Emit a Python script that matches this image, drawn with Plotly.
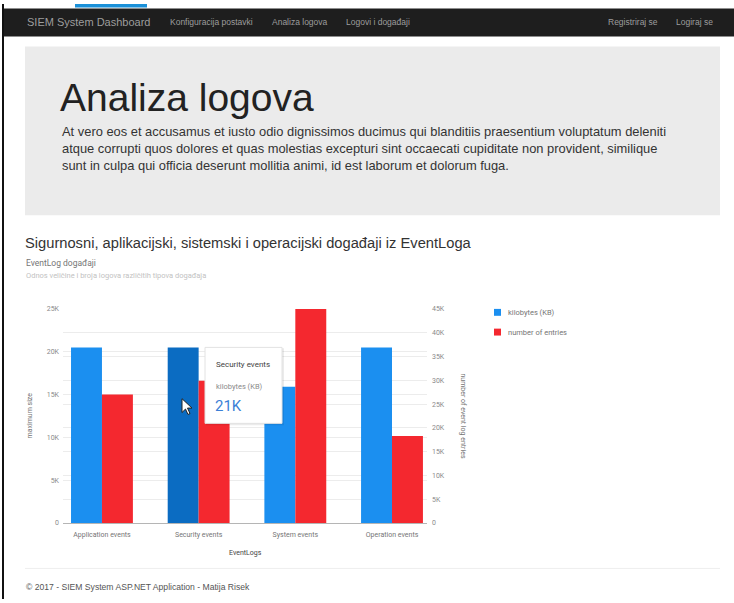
import plotly.graph_objects as go

# ---------------- data ----------------
categories = ["Application events", "Security events", "System events", "Operation events"]
kilobytes = [20480, 20480, 15900, 20480]
entries = [27000, 29900, 45000, 18300]
series_names = ["kilobytes (KB)", "number of entries"]

left_tick_vals = [0, 5000, 10000, 15000, 20000, 25000]
left_tick_text = ["0", "5K", "10K", "15K", "20K", "25K"]
right_tick_vals = [0, 5000, 10000, 15000, 20000, 25000, 30000, 35000, 40000, 45000]
right_tick_text = ["0", "5K", "10K", "15K", "20K", "25K", "30K", "35K", "40K", "45K"]

nav_items = ["Konfiguracija postavki", "Analiza logova", "Logovi i događaji"]
nav_right = ["Registriraj se", "Logiraj se"]

# ---------------- helpers ----------------
W, H = 734, 603


def px(x):
    return x / W


def py(y):
    return 1 - y / H


BLUE = "#1b8ff0"
BLUE_HOVER = "#0b6cc2"
RED = "#f4282f"
PAGE_FONT = "Liberation Sans, Arial, sans-serif"
CHART_FONT = "Roboto, Arial, sans-serif"

fig = go.Figure()

fig.add_trace(go.Bar(
    x=categories, y=kilobytes, name=series_names[0],
    marker=dict(color=[BLUE, BLUE_HOVER, BLUE, BLUE], line=dict(width=0)),
    width=0.32, offset=-0.32, yaxis="y", hoverinfo="skip", showlegend=False,
))
fig.add_trace(go.Bar(
    x=categories, y=entries, name=series_names[1],
    marker=dict(color=RED, line=dict(width=0)),
    width=0.32, offset=0.0, yaxis="y2", hoverinfo="skip", showlegend=False,
))

shapes = []
# left frame line
shapes.append(dict(type="line", xref="paper", yref="paper", x0=px(3), x1=px(3), y0=0, y1=1,
                   line=dict(color="#111111", width=2), layer="above"))
# navbar
shapes.append(dict(type="rect", xref="paper", yref="paper", x0=px(3), x1=1, y0=py(33), y1=py(4.5),
                   fillcolor="#1e1e1e", line=dict(width=0), layer="below"))
# blue tab above navbar
shapes.append(dict(type="rect", xref="paper", yref="paper", x0=px(75), x1=px(147), y0=py(3.5), y1=1,
                   fillcolor="#1a90d8", line=dict(width=0), layer="below"))
# jumbotron
shapes.append(dict(type="rect", xref="paper", yref="paper", x0=px(25), x1=px(720), y0=py(214), y1=py(43),
                   fillcolor="#ebebeb", line=dict(width=0), layer="below"))
# footer rule
shapes.append(dict(type="line", xref="paper", yref="paper", x0=px(25), x1=px(720), y0=py(572), y1=py(572),
                   line=dict(color="#eeeeee", width=1), layer="below"))
# legend swatches
for yc, col in zip([312.5, 332.5], [BLUE, RED]):
    shapes.append(dict(type="rect", xref="paper", yref="paper", x0=px(494), x1=px(501),
                       y0=py(yc + 3.5), y1=py(yc - 3.5), fillcolor=col, line=dict(width=0)))
# tooltip shadow + box
shapes.append(dict(type="rect", xref="paper", yref="paper", x0=px(206), x1=px(284), y0=py(427), y1=py(349),
                   fillcolor="rgba(0,0,0,0.08)", line=dict(width=0), layer="above"))
shapes.append(dict(type="rect", xref="paper", yref="paper", x0=px(205), x1=px(282), y0=py(425), y1=py(348),
                   fillcolor="#ffffff", line=dict(color="#e2e2e2", width=1), layer="above"))
# mouse cursor
cur = [(182, 400), (182, 414), (185.5, 410.5), (188, 416), (190, 415), (187.5, 409.5), (192, 409.5)]
path = "M " + " L ".join(f"{px(a):.5f},{py(b):.5f}" for a, b in cur) + " Z"
shapes.append(dict(type="path", xref="paper", yref="paper", path=path,
                   fillcolor="#ffffff", line=dict(color="#222222", width=1), layer="above"))

ann = []


def text(x, y, s, size, color, font=PAGE_FONT, anchor="left", angle=0):
    ann.append(dict(x=px(x), y=py(y), xref="paper", yref="paper", text=s, showarrow=False,
                    xanchor=anchor, yanchor="middle", textangle=angle,
                    font=dict(size=size, color=color, family=font)))


# navbar texts
text(25, 18, "SIEM System Dashboard", 11, "#9d9d9d")
for x, s in zip([168, 270, 344], nav_items):
    text(x, 18, s, 8.5, "#9d9d9d")
for x, s in zip([606, 674], nav_right):
    text(x, 18, s, 8.5, "#9d9d9d")

# jumbotron
text(58, 95, "Analiza logova", 39, "#222222")
para = ["At vero eos et accusamus et iusto odio dignissimos ducimus qui blanditiis praesentium voluptatum deleniti",
        "atque corrupti quos dolores et quas molestias excepturi sint occaecati cupiditate non provident, similique",
        "sunt in culpa qui officia deserunt mollitia animi, id est laborum et dolorum fuga."]
for i, line in enumerate(para):
    text(60, 129 + i * 17.5, line, 12.9, "#333333")

# chart heading
text(23, 242, "Sigurnosni, aplikacijski, sistemski i operacijski događaji iz EventLoga", 14.7, "#333333")
text(24, 262, "EventLog događaji", 8.5, "#757575", font=CHART_FONT)
text(24, 275, "Odnos veličine i broja logova različitih tipova događaja", 7.5, "#c2c2c2", font=CHART_FONT)

# custom legend texts
text(506, 313, series_names[0], 7.5, "#757575", font=CHART_FONT)
text(506, 333, series_names[1], 7.5, "#757575", font=CHART_FONT)

# axis titles
text(30, 417, "maximum size", 7, "#757575", font=CHART_FONT, anchor="center", angle=-90)
text(463, 417, "number of event log entries", 7, "#757575", font=CHART_FONT, anchor="center", angle=90)
text(245, 556, "EventLogs", 7, "#444444", font=CHART_FONT, anchor="center")

# tooltip
text(214, 365, "Security events", 8, "#424242", font=CHART_FONT)
text(214, 388, "kilobytes (KB)", 7.5, "#8a8a8a", font=CHART_FONT)
text(213, 407, "21K", 15, "#3c7fd6", font=CHART_FONT)

# footer
text(24, 591, "© 2017 - SIEM System ASP.NET Application - Matija Risek", 8.6, "#555555")

fig.update_layout(
    width=W, height=H,
    margin=dict(l=0, r=0, t=0, b=0),
    paper_bgcolor="#ffffff", plot_bgcolor="#ffffff",
    barmode="overlay",
    showlegend=False,
    xaxis=dict(domain=[px(63), px(427)], range=[-0.403, 3.362], type="category",
               showgrid=False, zeroline=False, showline=False, ticks="",
               ticklabelstandoff=6,
               tickfont=dict(size=7, color="#757575", family=CHART_FONT)),
    yaxis=dict(domain=[py(526), py(309)], range=[0, 25000],
               tickvals=left_tick_vals, ticktext=left_tick_text,
               showgrid=True, gridcolor="#ececec", gridwidth=1,
               zeroline=True, zerolinecolor="#b5b5b5", zerolinewidth=1,
               showline=False, ticks="", ticklabelstandoff=3,
               tickfont=dict(size=7, color="#8a8a8a", family=CHART_FONT)),
    yaxis2=dict(overlaying="y", side="right", range=[0, 45000],
                tickvals=right_tick_vals, ticktext=right_tick_text,
                showgrid=True, gridcolor="#ececec", gridwidth=1,
                zeroline=False, showline=False, ticks="", ticklabelstandoff=4,
                tickfont=dict(size=7, color="#8a8a8a", family=CHART_FONT)),
    shapes=shapes,
    annotations=ann,
)

fig.write_html("out.html", config={"displayModeBar": False},
               post_script="document.body.style.margin='0';document.body.style.overflow='hidden';")
